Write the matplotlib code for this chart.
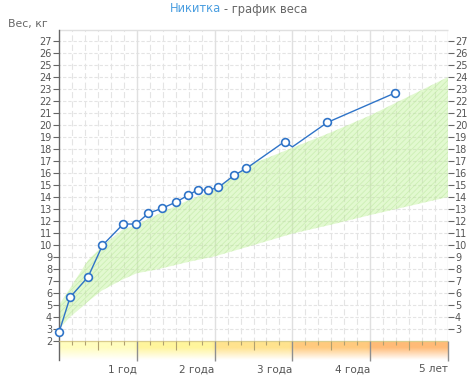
import matplotlib.pyplot as plt
import numpy as np

# measured weights (age in months, weight in kg); the 36-month vertex has no marker
ages = [0, 1.7, 4.5, 6.7, 9.9, 11.9, 13.8, 15.9, 18.0, 19.9, 21.4, 23.0, 24.6,
        27.0, 28.9, 34.8, 36.0, 41.4, 51.9]
weights = [2.72, 5.64, 7.36, 9.97, 11.75, 11.75, 12.65, 13.06, 13.57, 14.14, 14.61,
           14.56, 14.81, 15.81, 16.39, 18.62, 18.18, 20.22, 22.69]
has_marker = [True] * 16 + [False] + [True] * 2

# normal range band
band_ages = [0, 1.7, 4.5, 6.6, 9.7, 12, 15, 20, 24, 29.4, 36, 42, 48, 54, 60]
band_upper = [5.0, 6.4, 8.75, 9.86, 11.25, 11.7, 12.5, 13.75, 14.6, 16.67, 18.1,
              19.4, 20.8, 22.4, 24.0]
band_lower = [3.0, 4.0, 5.3, 6.2, 7.1, 7.65, 7.95, 8.6, 9.05, 9.9, 10.95, 11.7,
              12.5, 13.25, 14.0]

year_ticks = [12, 24, 36, 48, 60]
year_labels = ["1 год", "2 года", "3 года", "4 года", "5 лет"]
year_colors = ["#fffdbe", "#fff59c", "#ffe38e", "#ffca7e", "#ffbb77"]

W, H = 476, 382
Y_TOP = 27.92
Y_BOTTOM = 0.42
TEXT = "#555555"

plt.rcParams["font.family"] = "DejaVu Sans"
plt.rcParams["hatch.linewidth"] = 0.6

fig = plt.figure(figsize=(W / 100, H / 100), dpi=100)
ax = fig.add_axes([59 / W, 22 / H, 389 / W, 330 / H])
ax.set_xlim(0, 60)
ax.set_ylim(Y_BOTTOM, Y_TOP)

# grid
kg_lines = np.arange(3, 28)
ax.hlines(kg_lines, 0, 60, colors="#e4e4e4", linewidth=0.8,
          linestyles=[(1.5, (3.0, 1.7))], zorder=1)
minor = [m for m in range(2, 60, 2) if m % 12]
ax.vlines(minor, 2, Y_TOP, colors="#e4e4e4", linewidth=0.8,
          linestyles=[(2.0, (5.5, 3.0))], zorder=1)
ax.vlines(year_ticks[:-1], 2, Y_TOP, colors="#e0e0e0", linewidth=1.0, zorder=1)

# normal band
ax.fill_between(band_ages, band_lower, band_upper, facecolor=(0.72, 0.94, 0.54, 0.4),
                edgecolor=(0.72, 0.9, 0.6, 0.5), hatch="//////", linewidth=0, zorder=2)

# bottom age strip
cols = 60
rows = 40
strip = np.ones((rows, cols, 4))
for i, c in enumerate(year_colors):
    rgb = np.array([int(c[k:k + 2], 16) / 255 for k in (1, 3, 5)])
    strip[:, i * 12:(i + 1) * 12, :3] = rgb
fade = np.clip(np.linspace(1.5, 0, rows), 0, 1)
strip[:, :, 3] = fade[:, None]
ax.imshow(strip, extent=(0, 60, Y_BOTTOM, 2), aspect="auto", interpolation="bilinear",
          origin="upper", zorder=1)
ax.hlines(2, 0, 60, colors="#d9cc8c", linewidth=0.9, zorder=3)
short = [m for m in range(2, 60, 2) if m % 6]
half = [m for m in range(6, 60, 12)]
ax.vlines(short, 2 - 0.33, 2, colors="#b0a070", linewidth=0.8, zorder=3)
ax.vlines(half, 2 - 0.75, 2, colors="#b0a070", linewidth=0.8, zorder=3)
ax.vlines(year_ticks, Y_BOTTOM - 0.1, 2, colors="#8f8f8f", linewidth=1.0, zorder=3,
          clip_on=False)

# weight line
ax.plot(ages, weights, color="#2f74c8", linewidth=1.0, zorder=4, clip_on=False)
ax.plot([a for a, f in zip(ages, has_marker) if f],
        [w for w, f in zip(weights, has_marker) if f],
        linestyle="none", marker="o", markersize=5.6, markerfacecolor="white",
        markeredgecolor="#2f74c8", markeredgewidth=1.2, zorder=5, clip_on=False)

# spines and ticks
for side in ("bottom", "right", "top"):
    ax.spines[side].set_visible(False)
ax.spines["left"].set_color("#666666")
ax.spines["left"].set_linewidth(1.0)
ax.hlines(Y_TOP, 0, 60, colors="#e0e0e0", linewidth=1.0, zorder=1, clip_on=False)
ax.vlines(60, 2, Y_TOP, colors="#e0e0e0", linewidth=1.0, zorder=1)

ax.set_yticks(np.arange(2, 28))
ax.tick_params(axis="y", direction="out", length=4, width=0.8, color="#666666",
               pad=1, labelsize=7, labelcolor=TEXT)
ax.set_xticks(year_ticks)
ax.set_xticklabels(year_labels, ha="right")
ax.tick_params(axis="x", length=0, pad=3, labelsize=7.5, labelcolor=TEXT)

ax2 = ax.twinx()
ax2.set_ylim(Y_BOTTOM, Y_TOP)
for side in ax2.spines:
    ax2.spines[side].set_visible(False)
ax2.set_yticks(np.arange(3, 28))
ax2.tick_params(axis="y", direction="out", length=4, width=0.8, color="#666666",
                pad=1, labelsize=7, labelcolor=TEXT)

# titles
fig.text(221 / W, 1 - 9 / H, "Никитка", color="#4a9ee0", fontsize=8.3, ha="right", va="center")
fig.text(224 / W, 1 - 9 / H, "- график веса", color="#666666", fontsize=8.3, ha="left",
         va="center")
fig.text(8 / W, 1 - 24 / H, "Вес, кг", color="#666666", fontsize=7.8, ha="left", va="center")

fig.savefig("out.png", dpi=100)
